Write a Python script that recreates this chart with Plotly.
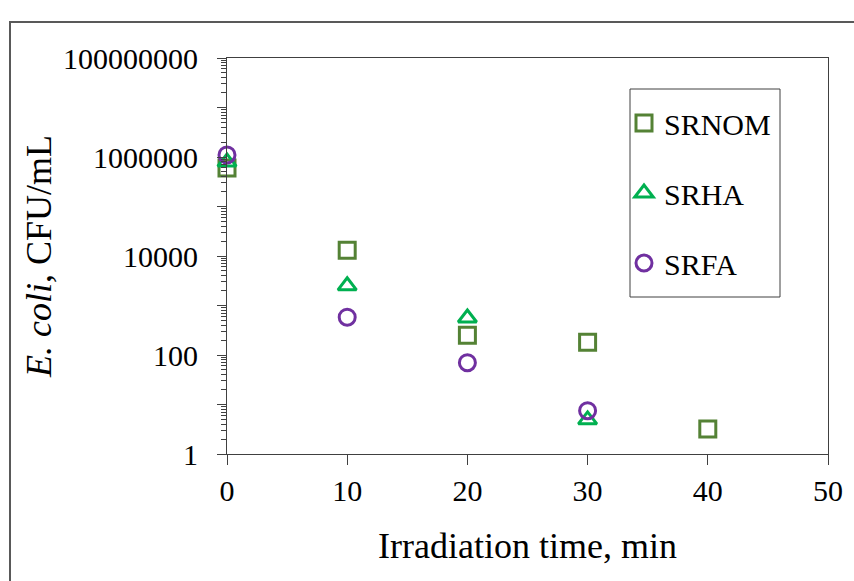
import math
import plotly.graph_objects as go

time_nom = [0, 10, 20, 30, 40]
srnom = [6.0e5, 1.3e4, 250, 180, 3.2]
time_ha = [0, 10, 20, 30]
srha = [7.9e5, 2.5e3, 560, 4.9]
time_fa = [0, 10, 20, 30]
srfa = [1.1e6, 580, 70, 7.5]

names = ["SRNOM", "SRHA", "SRFA"]
colors = ["#548235", "#00B050", "#7030A0"]
symbols = ["square-open", "triangle-up-open", "circle-open"]

y_log_range = [0, 8]
ytick_vals = [10 ** k for k in range(y_log_range[0], y_log_range[1] + 1)]
ytick_text = [str(v) if k % 2 == 0 else "" for k, v in enumerate(ytick_vals)]
yminor_vals = [m * 10 ** k for k in range(y_log_range[0], y_log_range[1]) for m in range(2, 10)]

FONT = "Liberation Serif"
FS = 30
fig = go.Figure()
for xs, ys, n, c, s in zip([time_nom, time_ha, time_fa], [srnom, srha, srfa], names, colors, symbols):
    fig.add_trace(go.Scatter(
        x=xs, y=ys, mode="markers", name=n, legendgroup=n,
        marker=dict(symbol=s, size=16, color=c, line=dict(width=3, color=c)),
        cliponaxis=False,
    ))
# placeholder trace (one null point) so the overlay axis with minor log ticks is drawn
fig.add_trace(go.Scatter(x=[None], y=[None], yaxis="y2", mode="markers",
                         showlegend=False, hoverinfo="skip"))

W, H = 854, 581
L, R, T, B = 227, 26, 58, 127
pw, ph = W - L - R, H - T - B

def px(x):
    return (x - L) / pw

def py(y):
    return (H - B - y) / ph

fig.update_layout(
    width=W, height=H,
    margin=dict(l=L, r=R, t=T, b=B),
    paper_bgcolor="white", plot_bgcolor="white",
    font=dict(family=FONT, size=FS, color="black"),
    showlegend=True,
    legend=dict(
        x=px(624), y=py(97), xanchor="left", yanchor="top",
        bgcolor="rgba(0,0,0,0)", borderwidth=0,
        font=dict(family=FONT, size=FS, color="black"),
        tracegroupgap=28, itemwidth=30,
    ),
    xaxis=dict(
        range=[0, 50], tickvals=[0, 10, 20, 30, 40, 50],
        ticks="outside", ticklen=10, tickcolor="#404040", tickwidth=1,
        showline=True, linecolor="#404040", linewidth=1, mirror=True,
        showgrid=False, zeroline=False,
        title=dict(text="Irradiation time, min", standoff=26),
        tickfont=dict(size=FS),
    ),
    yaxis=dict(
        type="log", range=y_log_range,
        tickvals=ytick_vals, ticktext=ytick_text,
        ticks="outside", ticklen=9, tickcolor="#404040", tickwidth=1,
        ticklabelstandoff=13,
        showline=True, linecolor="#404040", linewidth=1, mirror=True,
        showgrid=False, zeroline=False,
        title=dict(text="<i>E. coli</i>, CFU/mL", standoff=0),
        tickfont=dict(size=FS),
    ),
    # linear overlay in log10 units spanning the same range, carrying the minor ticks
    yaxis2=dict(
        type="linear", range=y_log_range, overlaying="y", anchor="x", side="left",
        tickmode="array", tickvals=[math.log10(v) for v in yminor_vals],
        ticktext=[""] * len(yminor_vals),
        ticks="outside", ticklen=5, tickcolor="#404040", tickwidth=1,
        showticklabels=False, showline=False, showgrid=False, zeroline=False,
    ),
    shapes=[
        dict(
            type="rect", xref="paper", yref="paper",
            x0=px(10), x1=px(870), y0=py(600), y1=py(22),
            line=dict(color="#595959", width=2), fillcolor="rgba(0,0,0,0)", layer="below",
        ),
        dict(
            type="rect", xref="paper", yref="paper",
            x0=px(630), x1=px(780), y0=py(297), y1=py(89),
            line=dict(color="#404040", width=1), fillcolor="white", layer="below",
        ),
    ],
)

fig.write_html("out.html")
